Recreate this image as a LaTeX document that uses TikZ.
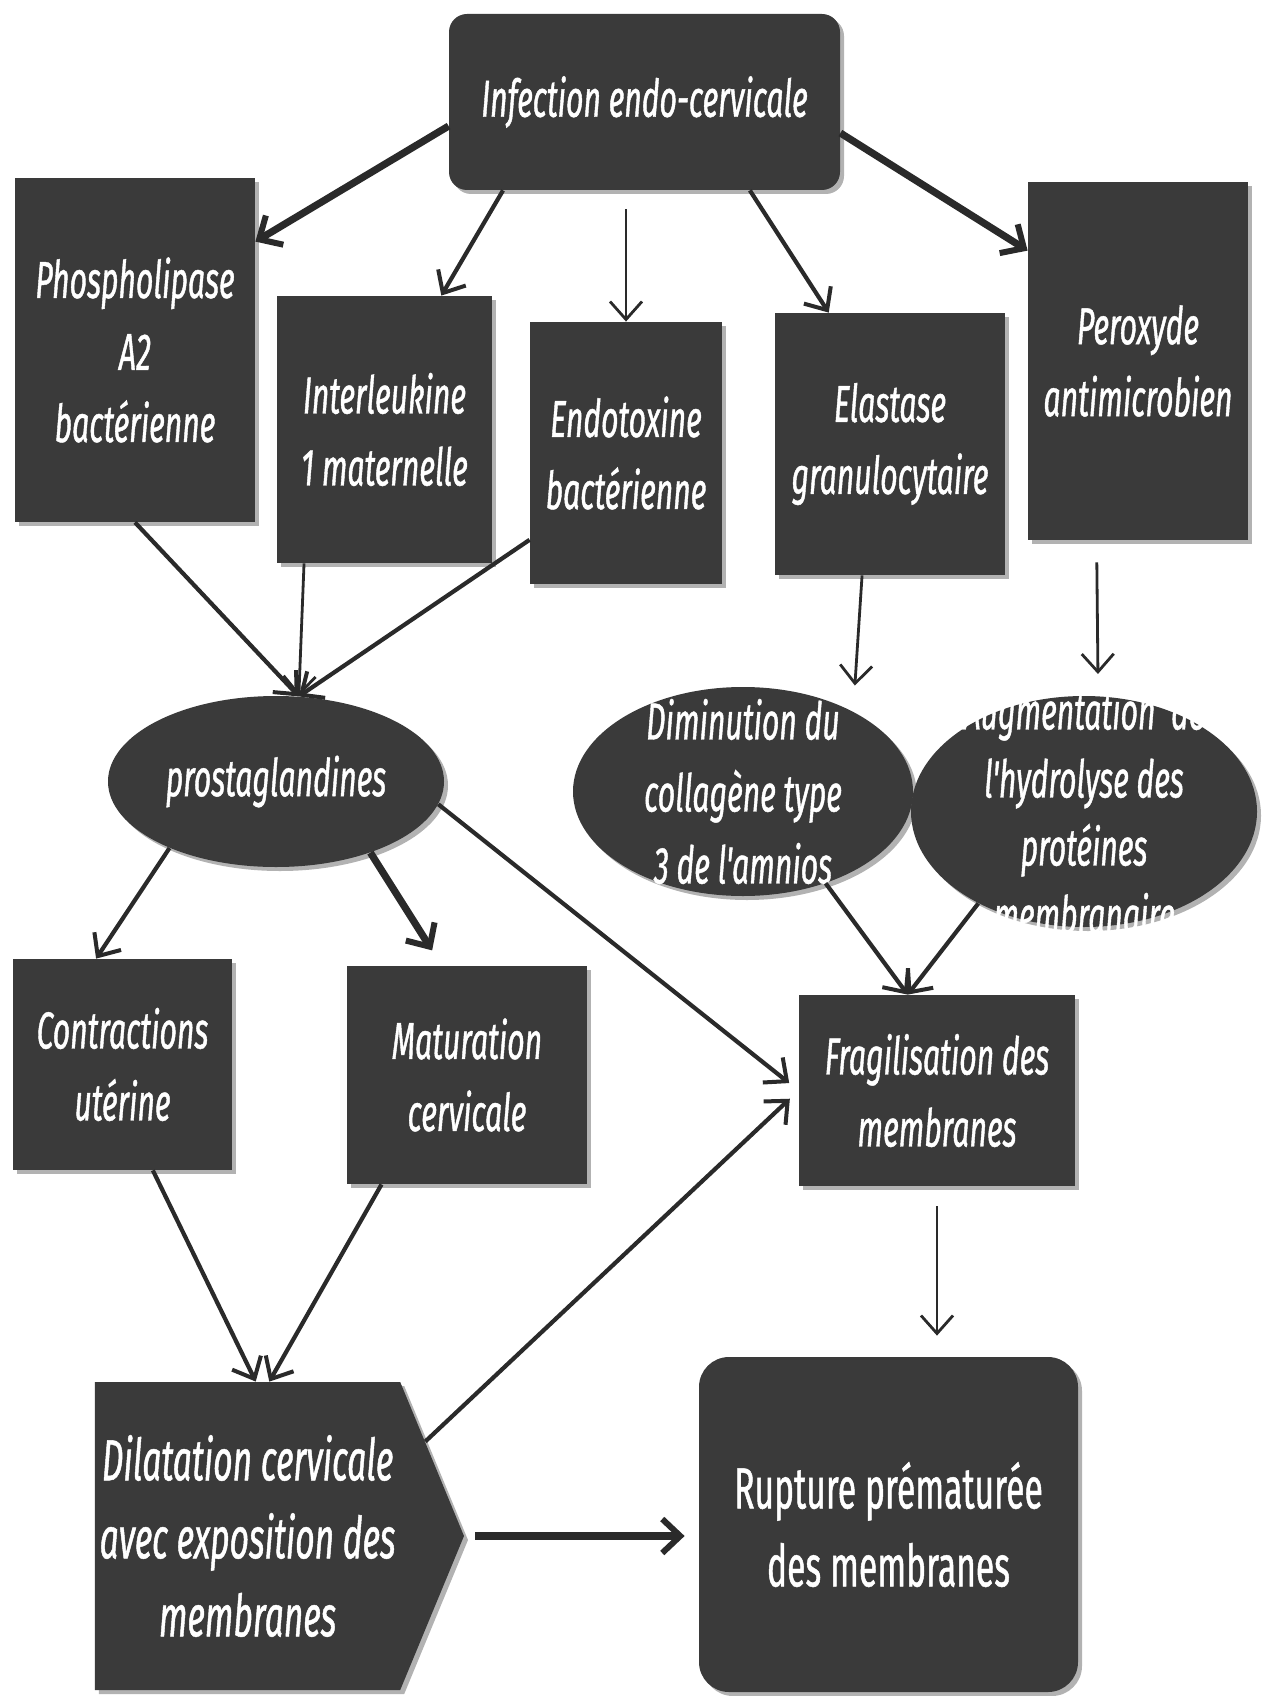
\documentclass[tikz,border=0pt]{standalone}
\usepackage{fontspec}
\newfontfamily\boxfont{Fira Sans}[FakeStretch=0.58,FakeBold=0.8]
\usetikzlibrary{arrows.meta,shapes.geometric,shapes.symbols,shadows}
\definecolor{boxgray}{RGB}{58,58,58}
\definecolor{arrgray}{RGB}{42,42,42}

\begin{document}
\begin{tikzpicture}[x=0.5pt,y=0.5pt,yscale=-1,
	box/.style={fill=boxgray, text=white, align=center, inner sep=0pt,
		font=\boxfont\itshape\fontsize{26}{36}\selectfont,
		drop shadow={shadow xshift=2pt, shadow yshift=-2pt, fill=black, opacity=0.3}},
	oval/.style={box, ellipse},
	inoval/.style={text=white, align=center, inner sep=0pt, font=\boxfont\itshape\fontsize{26}{36}\selectfont},
	thinarr/.style={draw=arrgray, line width=1.4pt, -{Straight Barb[length=9pt,width=16pt,line width=1.4pt]}},
	arr/.style={draw=arrgray, line width=2.1pt, -{Straight Barb[length=9pt,width=16pt,line width=2pt]}},
	thickarr/.style={draw=arrgray, line width=3.6pt, -{Straight Barb[length=9pt,width=17pt,line width=3pt]}},
	]
	\useasboundingbox (0,0) rectangle (1265,1696);
	% causes
	\node[box, rounded corners=9pt, minimum width=195.5pt, minimum height=88pt] (infect) at (644.5,102) {Infection endo-cervicale};
	\node[box, minimum width=120pt, minimum height=172pt] (phos) at (135,350) {Phospholipase\\A2\\bactérienne};
	\node[box, minimum width=107.5pt, minimum height=133.5pt] (inter) at (384.5,429.5) {Interleukine\\1 maternelle};
	\node[box, minimum width=96pt, minimum height=131pt] (endo) at (626,453) {Endotoxine\\bactérienne};
	\node[box, minimum width=115pt, minimum height=131pt] (elast) at (890,444) {Elastase\\granulocytaire};
	\node[box, minimum width=110pt, minimum height=179pt] (perox) at (1138,361) {Peroxyde\\antimicrobien};
	% mediators
	\node[oval, minimum width=168pt, minimum height=85.5pt, label={[inoval]center:prostaglandines}] (prost) at (276,781.5) {};
	\node[oval, minimum width=170pt, minimum height=104.5pt, label={[inoval]center:{Diminution du\\collagène type\\3 de l'amnios}}] (dimin) at (743,791.5) {};
	\node[oval, minimum width=173pt, minimum height=115.5pt, label={[inoval, font=\boxfont\itshape\fontsize{26}{34}\selectfont]center:{Augmentation\ \ de\\l'hydrolyse des\\protéines\\membranaire}}] (augm) at (1084,811.5) {};
	% effects
	\node[box, minimum width=109.5pt, minimum height=105.5pt] (contr) at (122.5,1064.5) {Contractions\\utérine};
	\node[box, minimum width=120pt, minimum height=109pt] (matur) at (467,1075) {Maturation\\cervicale};
	\node[box, minimum width=138pt, minimum height=95.5pt] (frag) at (937,1090.5) {Fragilisation des\\membranes};
	\node[box, signal, signal to=east, signal pointer angle=135, minimum width=184.5pt, minimum height=154pt,
		font=\boxfont\itshape\fontsize{29}{39}\selectfont] (dilat) at (247.6,1536) {Dilatation cervicale\\avec exposition des\\membranes};
	\node[box, rounded corners=15pt, minimum width=189.5pt, minimum height=167.5pt,
		font=\boxfont\fontsize{29}{39}\selectfont] (rupt) at (888.5,1524.5) {Rupture prématurée\\des membranes};
	% arrows
	\draw[thickarr] (infect.187) -- (phos.42);
	\draw[arr] (infect.212) -- (inter.67);
	\draw[thinarr, shorten <=9.5pt] (infect.south -| endo.north) -- (endo.north);
	\draw[arr] (infect.320) -- (elast.115);
	\draw[thickarr] (infect.351) -- (perox.135);
	\draw[arr] (phos.south) -- (prost.75);
	\draw[thinarr] (inter.239) -- (prost.75);
	\draw[arr] (endo.222) -- (prost.75);
	\draw[thinarr, shorten >=13pt] (elast.258) -- (dimin.36);
	\draw[thinarr, shorten <=11pt, shorten >=11pt] (perox.257) -- (augm.83);
	\draw[arr] (prost.212) -- (contr.104);
	\draw[thickarr, shorten >=9pt] (prost.323) -- (matur.103);
	\draw[arr, shorten >=6pt] (prost.352) -- (frag.west);
	\draw[arr] (dimin.312) -- (frag.107);
	\draw[arr] (augm.221) -- (frag.107);
	\draw[arr] (contr.286) -- (dilat.87);
	\draw[arr] (matur.232) -- (dilat.82);
	\draw[arr, shorten >=6pt] (dilat.28) -- (frag.west);
	\draw[thickarr, shorten <=5.5pt, shorten >=7pt] (dilat.east) -- (rupt.west |- dilat.east);
	\draw[thinarr, shorten <=10pt, shorten >=10.5pt] (frag.south) -- (frag.south |- rupt.north);
\end{tikzpicture}
\end{document}
